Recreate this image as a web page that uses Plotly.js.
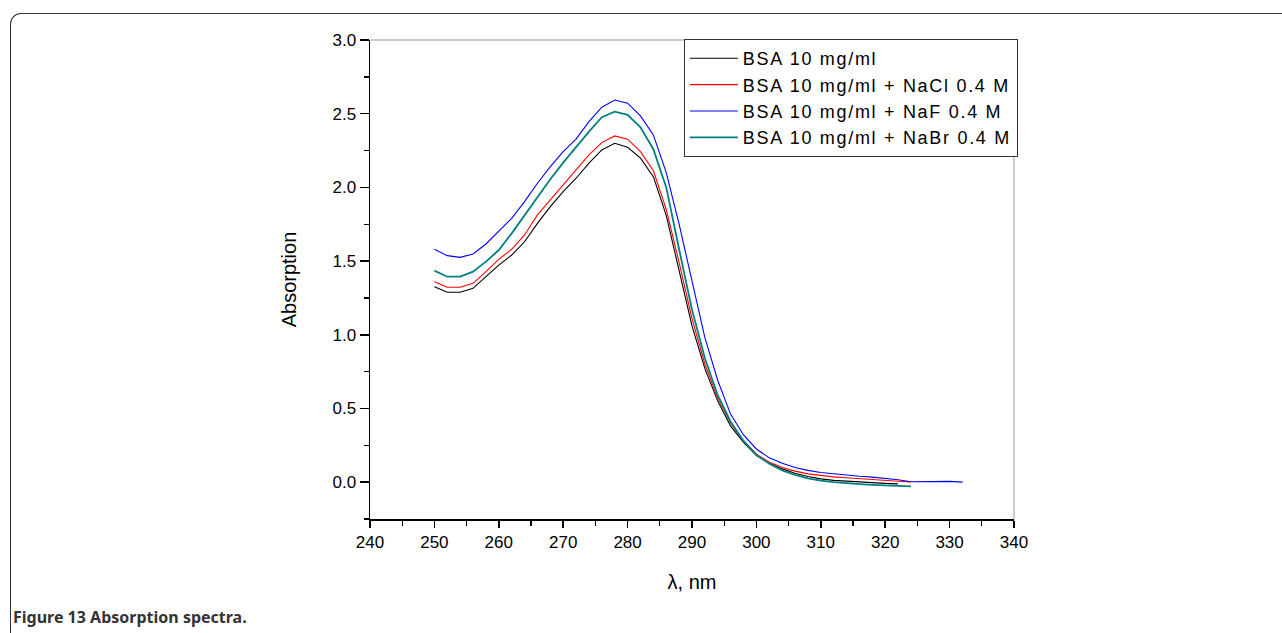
<!DOCTYPE html>
<html>
<head>
<meta charset="utf-8">
<script src="https://cdn.plot.ly/plotly-3.0.1.min.js"></script>
<style>
  html, body { margin: 0; padding: 0; background: #fff; }
  #wrap { position: relative; width: 1282px; height: 633px; overflow: hidden; }
  #chart { width: 1282px; height: 633px; }
  #frame { position: absolute; left: 10px; top: 13px; width: 1290px; height: 640px;
           border-left: 1.6px solid #333; border-top: 1.6px solid #333;
           border-top-left-radius: 11px; pointer-events: none; }
  text.legendtext { letter-spacing: 1.7px; }
</style>
</head>
<body>
<div id="wrap">
  <div id="chart"></div>
  <div id="frame"></div>
</div>
<script>
// Wavelengths (nm)
const wlMain = [250,252,254,256,258,260,262,264,266,268,270,272,274,276,278,280,282,284,286,288,290,292,294,296,298,300,302,304,306,308,310,312,314,316,318,320,322];
const wlLong = [250,252,254,256,258,260,262,264,266,268,270,272,274,276,278,280,282,284,286,288,290,292,294,296,298,300,302,304,306,308,310,312,314,316,318,320,322,324];
const wlBlue = [250,252,254,256,258,260,262,264,266,268,270,272,274,276,278,280,282,284,286,288,290,292,294,296,298,300,302,304,306,308,310,312,314,316,318,320,322,324,326,328,330,332];

// Absorption values
const bsa = [1.326,1.288,1.288,1.315,1.394,1.473,1.541,1.631,1.756,1.869,1.971,2.062,2.164,2.254,2.299,2.272,2.198,2.073,1.810,1.440,1.060,0.770,0.550,0.380,0.270,0.180,0.130,0.090,0.060,0.038,0.022,0.012,0.006,0.001,-0.004,-0.008,-0.012];
const bsaNaCl = [1.360,1.322,1.322,1.349,1.428,1.512,1.580,1.677,1.813,1.914,2.016,2.118,2.220,2.304,2.349,2.327,2.243,2.113,1.850,1.490,1.110,0.800,0.570,0.400,0.280,0.190,0.135,0.100,0.075,0.056,0.045,0.036,0.030,0.023,0.017,0.011,0.006,0.001];
const bsaNaF = [1.580,1.537,1.525,1.548,1.616,1.700,1.790,1.903,2.028,2.141,2.243,2.327,2.446,2.544,2.593,2.571,2.485,2.356,2.100,1.750,1.370,0.980,0.690,0.460,0.320,0.225,0.165,0.128,0.100,0.080,0.066,0.056,0.047,0.040,0.034,0.026,0.016,0.003,0.005,0.008,0.005,0.000];
const bsaNaBr = [1.435,1.394,1.394,1.428,1.496,1.575,1.688,1.813,1.937,2.055,2.168,2.277,2.378,2.476,2.514,2.492,2.408,2.259,2.000,1.580,1.170,0.840,0.590,0.410,0.280,0.185,0.125,0.080,0.050,0.026,0.010,0.000,-0.008,-0.013,-0.018,-0.022,-0.025,-0.028];

const names = ["BSA 10 mg/ml", "BSA 10 mg/ml + NaCl 0.4 M", "BSA 10 mg/ml + NaF 0.4 M", "BSA 10 mg/ml + NaBr 0.4 M"];

const xTickVals = [240,250,260,270,280,290,300,310,320,330,340];
const yTickVals = [0.0,0.5,1.0,1.5,2.0,2.5,3.0];
const yTickText = ["0.0","0.5","1.0","1.5","2.0","2.5","3.0"];

const traces = [
  {x: wlMain, y: bsa, name: names[0], mode: 'lines', line: {color: '#000000', width: 1.1}},
  {x: wlLong, y: bsaNaCl, name: names[1], mode: 'lines', line: {color: '#ff0000', width: 1.1}},
  {x: wlBlue, y: bsaNaF, name: names[2], mode: 'lines', line: {color: '#0000ff', width: 1.1}},
  {x: wlLong, y: bsaNaBr, name: names[3], mode: 'lines', line: {color: '#008080', width: 1.8}}
];

const tickFont = {family: 'Liberation Sans, Arial, sans-serif', size: 17, color: '#000'};

const layout = {
  width: 1282, height: 633,
  margin: {l: 370, r: 268, t: 40, b: 114},
  paper_bgcolor: '#fff', plot_bgcolor: '#fff',
  showlegend: true,
  legend: {
    x: 1.006, xanchor: 'right', y: 1.002, yanchor: 'top',
    bgcolor: '#fff', bordercolor: '#333', borderwidth: 1,
    font: {family: 'Liberation Sans, Arial, sans-serif', size: 18, color: '#000'},
    itemwidth: 48, tracegroupgap: 0
  },
  xaxis: {
    range: [240, 340], tickvals: xTickVals, ticktext: xTickVals.map(String),
    showgrid: false, zeroline: false, showline: true, linecolor: '#000', linewidth: 1.5,
    ticks: 'outside', ticklen: 7, tickwidth: 1.5, tickcolor: '#000',
    minor: {dtick: 5, ticks: 'outside', ticklen: 5, tickwidth: 1.3, tickcolor: '#000', showgrid: false},
    tickfont: tickFont,
    title: {text: 'λ, nm', font: {family: 'Liberation Sans, Arial, sans-serif', size: 20, color: '#000'}, standoff: 24}
  },
  yaxis: {
    range: [-0.25, 3.0], tickvals: yTickVals, ticktext: yTickText,
    showgrid: false, zeroline: false, showline: true, linecolor: '#000', linewidth: 1.5,
    ticks: 'outside', ticklen: 9, tickwidth: 1.5, tickcolor: '#000',
    minor: {dtick: 0.25, ticks: 'outside', ticklen: 5, tickwidth: 1.3, tickcolor: '#000', showgrid: false},
    tickfont: tickFont,
    title: {text: 'Absorption', font: {family: 'Liberation Sans, Arial, sans-serif', size: 20, color: '#000'}, standoff: 30}
  },
  shapes: [
    {type: 'line', xref: 'paper', yref: 'paper', x0: 0, x1: 1, y0: 1, y1: 1, line: {color: '#999', width: 1}},
    {type: 'line', xref: 'paper', yref: 'paper', x0: 1, x1: 1, y0: 0, y1: 1, line: {color: '#999', width: 1}}
  ],
  annotations: [
    {xref: 'paper', yref: 'paper', x: -0.557, y: -0.204, xanchor: 'left', yanchor: 'middle',
     showarrow: false, text: '<b>Figure 13</b> <b>Absorption spectra.</b>',
     font: {family: 'Noto Sans, Open Sans, sans-serif', size: 16, color: '#333'}}
  ]
};

Plotly.newPlot('chart', traces, layout, {displayModeBar: false, staticPlot: true});
</script>
</body>
</html>
